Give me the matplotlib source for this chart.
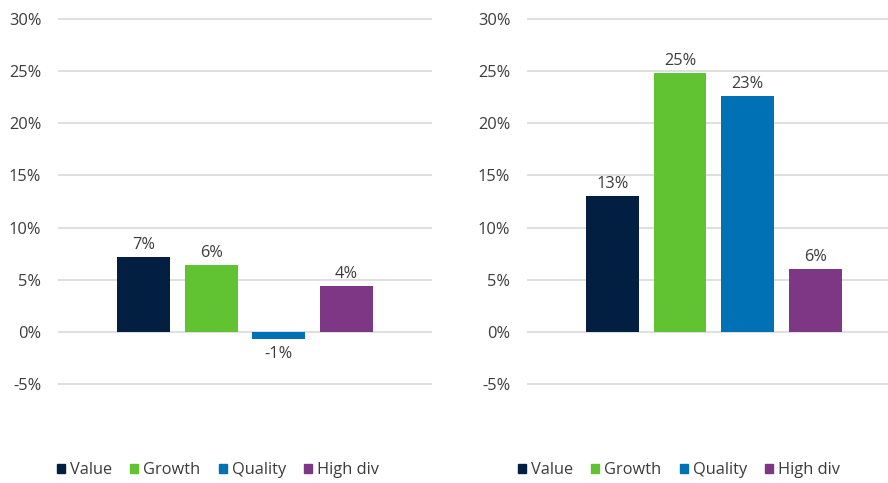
import matplotlib.pyplot as plt
from matplotlib.patches import Patch

plt.rcParams['font.family'] = ['Open Sans', 'DejaVu Sans']

# factor returns, two periods
factors = ["Value", "Growth", "Quality", "High div"]
returns_left = [7.2, 6.4, -0.7, 4.4]
returns_right = [13.0, 24.8, 22.6, 6.0]
labels_left = ["7%", "6%", "-1%", "4%"]
labels_right = ["13%", "25%", "23%", "6%"]
yticks = [-5, 0, 5, 10, 15, 20, 25, 30]

colors = ["#021f41", "#62c332", "#0071b5", "#7d3785"]
text_color = "#3c3c3c"
grid_color = "#d9d9d9"
fs = 11.8

fig = plt.figure(figsize=(8.88, 4.83), dpi=100)

W, H = 888, 483


def px_axes(x0, x1, y_top, y_bot):
    return fig.add_axes([x0 / W, 1 - y_bot / H, (x1 - x0) / W, (y_bot - y_top) / H])


def draw_panel(ax, values, labels, xlim):
    x = range(len(values))
    bars = ax.bar(x, values, width=0.78, color=colors, zorder=3)
    for b, v, lab in zip(bars, values, labels):
        cx = b.get_x() + b.get_width() / 2
        if v >= 0:
            ax.annotate(lab, (cx, v), xytext=(0, 3), textcoords="offset points",
                        ha="center", va="bottom", fontsize=fs, color=text_color)
        else:
            ax.annotate(lab, (cx, v), xytext=(0, -5), textcoords="offset points",
                        ha="center", va="top", fontsize=fs, color=text_color)
    ax.set_xlim(*xlim)
    ax.set_ylim(-5.5, 30.5)
    ax.set_yticks(yticks)
    ax.set_yticklabels([f"{t}%" for t in yticks])
    ax.set_xticks([])
    ax.grid(axis="y", color=grid_color, linewidth=1.2, zorder=0)
    for s in ax.spines.values():
        s.set_visible(False)
    ax.tick_params(axis="y", length=0, pad=12, labelsize=fs, labelcolor=text_color)


ax1 = px_axes(58, 432, 13.8, 389.2)
draw_panel(ax1, returns_left, labels_left, (-1.26, 4.26))

ax2 = px_axes(527, 888, 13.8, 389.2)
draw_panel(ax2, returns_right, labels_right, (-1.26, 4.07))

handles = [Patch(color=c) for c in colors]
for x0 in (57 / W, 518 / W):
    fig.legend(handles, factors, loc="center left", bbox_to_anchor=(x0, 1 - 470 / H),
               ncol=4, frameon=False, fontsize=fs, labelcolor=text_color,
               handlelength=0.5, handleheight=0.5, handletextpad=0.3,
               columnspacing=1.1, borderaxespad=0, borderpad=0)

fig.savefig("out.png", dpi=100)
